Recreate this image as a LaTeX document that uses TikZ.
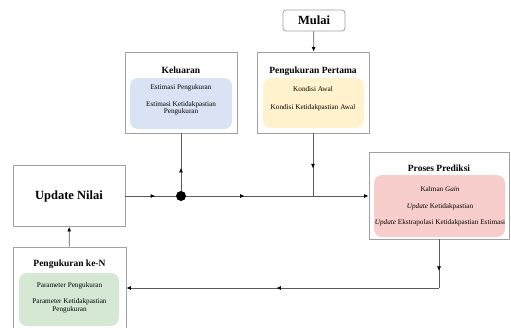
\documentclass[tikz,border=0pt]{standalone}
\usepackage{fontspec}
\setmainfont{Liberation Serif}
\usetikzlibrary{arrows.meta,decorations.markings}

\definecolor{boxgray}{HTML}{A0A0A0}
\definecolor{linegray}{HTML}{5A5A5A}
\definecolor{fillblue}{HTML}{DAE3F3}
\definecolor{fillyellow}{HTML}{FFF2CC}
\definecolor{fillred}{HTML}{F8CECC}
\definecolor{fillgreen}{HTML}{D5E8D4}

\tikzset{
  outerbox/.style={draw=boxgray, line width=0.8pt, fill=white, inner sep=0pt},
  innerbox/.style={rounded corners=8pt, draw=none, inner sep=0pt},
  boxtitle/.style={font=\fontsize{9.5}{11}\selectfont\bfseries},
  bigtitle/.style={font=\fontsize{12.5}{14}\selectfont\bfseries},
  boxbody/.style={font=\fontsize{7.2}{7.6}\selectfont, align=center, inner sep=0pt},
  flow/.style={color=linegray, line width=0.8pt},
  tip/.style={-{Latex[length=4.5pt,width=4pt,black]}},
  midtip/.style={postaction={decorate}, decoration={markings,
      mark=at position #1 with {\arrow{Latex[length=4.5pt,width=4pt,black]}}}},
}

\begin{document}
\begin{tikzpicture}[x=1pt,y=-1pt]

      \useasboundingbox (0,0) rectangle (511,327);

      % Start node
      \node[outerbox, rounded corners=3pt, minimum width=62pt, minimum height=21pt,
        bigtitle] (mulai) at (314,20.5) {Mulai};

      % Output block
      \node[outerbox, minimum width=112pt, minimum height=81pt] (keluaran) at (181,92.5) {};
      \node[innerbox, fill=fillblue, minimum width=102pt, minimum height=51pt]
        (keluaran-in) at (181,103.5) {};
      \node[boxtitle] (keluaran-title) at (181,70) {Keluaran};
      \node[boxbody] (keluaran-text) at (181,99.8)
        {Estimasi Pengukuran\\[9.4pt]Estimasi Ketidakpastian\\Pengukuran};

      % First measurement block
      \node[outerbox, minimum width=112pt, minimum height=81pt] (pertama) at (313,92.5) {};
      \node[innerbox, fill=fillyellow, minimum width=101pt, minimum height=50pt]
        (pertama-in) at (313.5,103) {};
      \node[boxtitle] (pertama-title) at (313,71) {Pengukuran Pertama};
      \node[boxbody] (pertama-text) at (313,99)
        {Kondisi Awal\\[10.4pt]Kondisi Ketidakpastian Awal};

      % Prediction block
      \node[outerbox, minimum width=140pt, minimum height=87pt] (prediksi) at (439,195.5) {};
      \node[innerbox, fill=fillred, minimum width=131pt, minimum height=62pt]
        (prediksi-in) at (439.5,206) {};
      \node[boxtitle] (prediksi-title) at (439,168) {Proses Prediksi};
      \node[boxbody] (prediksi-text) at (440,206.5)
        {Kalman \textit{Gain}\\[9pt]\textit{Update} Ketidakpastian\\[9pt]%
         \textit{Update} Ekstrapolasi Ketidakpastian Estimasi};

      % Value update block
      \node[outerbox, minimum width=112pt, minimum height=61pt, bigtitle]
        (update) at (69,196) {Update Nilai};

      % N-th measurement block (runs past the lower edge)
      \node[outerbox, minimum width=113pt, minimum height=93pt] (ken) at (69.5,293.5) {};
      \node[innerbox, fill=fillgreen, minimum width=100pt, minimum height=53pt]
        (ken-in) at (69,299.5) {};
      \node[boxtitle] (ken-title) at (69.5,264) {Pengukuran ke-N};
      \node[boxbody] (ken-text) at (69.5,298)
        {Parameter Pengukuran\\[8.4pt]Parameter Ketidakpastian\\Pengukuran};

      % Junction point
      \node[circle, fill=black, minimum size=10pt, inner sep=0pt] (dot) at (181,196) {};
      \coordinate (join) at (pertama.south |- dot);
      \coordinate (bottomrow) at (0,288);
      \coordinate (corner) at (prediksi.south |- bottomrow);

      % Connectors
      \draw[flow, tip] (mulai) -- (pertama);
      \draw[flow, midtip=0.56] (pertama.south) -- (join);
      \draw[flow, midtip=0.59] (update.east |- dot) -- (dot);
      \draw[flow, midtip=0.4] (dot) -- (keluaran.south);
      \draw[flow, midtip=0.46] (dot) -- (join);
      \draw[flow, tip] (join) -- (join -| prediksi.west);
      \draw[flow, midtip=0.65] (prediksi.south) -- (corner);
      \draw[flow, tip, midtip=0.52] (corner) -- (corner -| ken.east);
      \draw[flow, tip] (ken) -- (update);

\end{tikzpicture}
\end{document}
